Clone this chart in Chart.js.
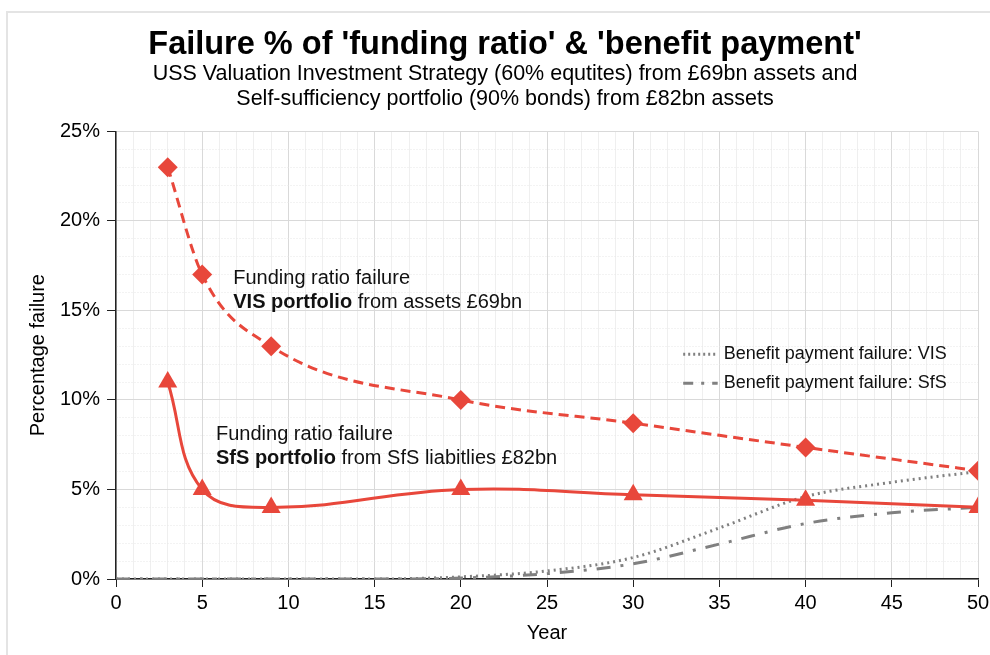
<!DOCTYPE html>
<html lang="en">
<head>
    <meta charset="UTF-8">
    <title>Failure % of funding ratio and benefit payment</title>
    <script src="https://cdn.jsdelivr.net/npm/chart.js"></script>
    <style>
        body { margin: 0; background: #fff; }
        #frame {
            position: absolute; left: 6px; top: 11px; width: 984px; height: 644px;
            border-top: 2px solid #e4e4e4; border-left: 2px solid #e4e4e4;
        }
        #failChart { position: absolute; left: 0; top: 0; }
    </style>
</head>
<body>
    <div id="frame"></div>
    <canvas id="failChart" width="990" height="655"></canvas>

    <script>
        // funding ratio failure
        const fundingYears = [3, 5, 9, 20, 30, 40, 50];
        const visFunding = [23, 17, 13, 10, 8.7, 7.35, 6.05];
        const sfsFunding = [11, 5, 4, 5, 4.7, 4.4, 4.0];

        // benefit payment failure (no markers), read every 5 years
        const benefitYears = [0, 5, 10, 15, 20, 25, 30, 35, 40, 45, 50];
        const visBenefit = [0, 0, 0, 0, 0.12, 0.45, 1.2, 2.85, 4.6, 5.4, 6.0];
        const sfsBenefit = [0, 0, 0, 0, 0.05, 0.3, 0.85, 1.95, 3.1, 3.7, 4.0];

        const legendLabels = ['Benefit payment failure: VIS', 'Benefit payment failure: SfS'];
        const titleText = "Failure % of 'funding ratio' & 'benefit payment'";
        const subtitleText = [
            'USS Valuation Investment Strategy (60% equtites) from £69bn assets and',
            'Self-sufficiency portfolio (90% bonds) from £82bn assets'
        ];

        const RED = '#e8473b';
        const GREY = '#808080';
        const FONT = "'Liberation Sans', Arial, sans-serif";

        function toPoints(xs, ys) {
            return xs.map((x, i) => ({ x: x, y: ys[i] }));
        }

        // text notes + the little legend for the grey lines
        const notesPlugin = {
            id: 'notes',
            afterDraw(chart) {
                const ctx = chart.ctx;
                const xs = chart.scales.x, ys = chart.scales.y;
                ctx.save();
                ctx.fillStyle = '#111';
                ctx.textBaseline = 'middle';

                function note(x, y, line1, bold, rest) {
                    const px = xs.getPixelForValue(x);
                    const py = ys.getPixelForValue(y);
                    ctx.font = '20px ' + FONT;
                    ctx.fillText(line1, px, py);
                    ctx.font = 'bold 20px ' + FONT;
                    ctx.fillText(bold, px, py + 24);
                    const w = ctx.measureText(bold).width;
                    ctx.font = '20px ' + FONT;
                    ctx.fillText(rest, px + w, py + 24);
                }
                note(6.8, 16.8, 'Funding ratio failure', 'VIS portfolio', ' from assets £69bn');
                note(5.8, 8.05, 'Funding ratio failure', 'SfS portfolio', ' from SfS liabitlies £82bn');

                // legend
                const sets = [chart.data.datasets[2], chart.data.datasets[3]];
                const lx0 = xs.getPixelForValue(32.9), lx1 = xs.getPixelForValue(34.9);
                sets.forEach((ds, i) => {
                    const py = ys.getPixelForValue(12.55) + i * 29;
                    ctx.strokeStyle = ds.borderColor;
                    ctx.lineWidth = 3;
                    ctx.lineCap = 'butt';
                    ctx.setLineDash(i === 0 ? [2, 3] : [10, 8, 3, 8]);
                    ctx.beginPath();
                    ctx.moveTo(lx0, py);
                    ctx.lineTo(lx1, py);
                    ctx.stroke();
                    ctx.setLineDash([]);
                    ctx.font = '18px ' + FONT;
                    ctx.fillText(legendLabels[i], lx1 + 6, py);
                });
                ctx.restore();
            }
        };

        function isMajor(c) {
            return c.tick && c.tick.value % 5 === 0;
        }

        new Chart(document.getElementById('failChart'), {
            type: 'line',
            data: {
                datasets: [{
                    label: 'Funding ratio failure: VIS',
                    data: toPoints(fundingYears, visFunding),
                    borderColor: RED,
                    backgroundColor: RED,
                    borderWidth: 3,
                    borderDash: [10, 6],
                    cubicInterpolationMode: 'monotone',
                    pointStyle: 'rectRot',
                    pointRadius: 10,
                    pointBorderWidth: 0,
                    fill: false
                }, {
                    label: 'Funding ratio failure: SfS',
                    data: toPoints(fundingYears, sfsFunding),
                    borderColor: RED,
                    backgroundColor: RED,
                    borderWidth: 3,
                    tension: 0.4,
                    pointStyle: 'triangle',
                    pointRadius: 11,
                    pointBorderWidth: 0,
                    fill: false
                }, {
                    label: legendLabels[0],
                    data: toPoints(benefitYears, visBenefit),
                    borderColor: GREY,
                    borderWidth: 3,
                    borderDash: [2, 4],
                    cubicInterpolationMode: 'monotone',
                    pointRadius: 0,
                    fill: false
                }, {
                    label: legendLabels[1],
                    data: toPoints(benefitYears, sfsBenefit),
                    borderColor: GREY,
                    borderWidth: 3,
                    borderDash: [14, 10, 3, 10],
                    cubicInterpolationMode: 'monotone',
                    pointRadius: 0,
                    fill: false
                }]
            },
            options: {
                responsive: false,
                animation: false,
                layout: { padding: { left: 32, right: 12, top: 0, bottom: 0 } },
                plugins: {
                    legend: { display: false },
                    tooltip: { enabled: false },
                    title: {
                        display: true,
                        text: titleText,
                        color: '#000',
                        font: { family: FONT, size: 32.5, weight: 'bold', lineHeight: 1.1 },
                        padding: { top: 27, bottom: 0 }
                    },
                    subtitle: {
                        display: true,
                        text: subtitleText,
                        color: '#000',
                        font: { family: FONT, size: 21.5, lineHeight: 1.2 },
                        padding: { top: -2, bottom: 19 }
                    }
                },
                scales: {
                    x: {
                        type: 'linear',
                        min: 0,
                        max: 50,
                        afterFit(scale) {
                            scale.height = 76;
                            scale.paddingLeft = 0;
                            scale.paddingRight = 12;
                        },
                        ticks: {
                            stepSize: 1,
                            autoSkip: false,
                            maxRotation: 0,
                            padding: 4,
                            color: '#000',
                            font: { family: FONT, size: 20 },
                            callback: v => (v % 5 === 0 ? v : '')
                        },
                        grid: {
                            color: c => (isMajor(c) ? '#d9d9d9' : '#efefef'),
                            tickColor: c => (isMajor(c) ? '#222' : 'rgba(0,0,0,0)'),
                            tickLength: 8
                        },
                        border: { color: '#222', width: 1.5 },
                        title: {
                            display: true,
                            text: 'Year',
                            color: '#000',
                            font: { family: FONT, size: 20 },
                            padding: { top: 0, bottom: 10 }
                        }
                    },
                    y: {
                        min: 0,
                        max: 25,
                        afterFit(scale) { scale.width = 84; },
                        ticks: {
                            stepSize: 1,
                            autoSkip: false,
                            padding: 7,
                            color: '#000',
                            font: { family: FONT, size: 20 },
                            callback: v => (v % 5 === 0 ? v + '%' : '')
                        },
                        grid: {
                            color: c => (isMajor(c) ? '#d9d9d9' : '#e6e6e6'),
                            tickColor: c => (isMajor(c) ? '#222' : 'rgba(0,0,0,0)'),
                            tickLength: 9
                        },
                        border: {
                            color: '#222',
                            width: 1.5,
                            dash: c => (c.tick && c.tick.value % 5 !== 0 ? [1, 2] : [])
                        },
                        title: {
                            display: true,
                            text: 'Percentage failure',
                            color: '#000',
                            font: { family: FONT, size: 20 },
                            padding: { top: -6, bottom: 0 }
                        }
                    }
                }
            },
            plugins: [notesPlugin]
        });
    </script>
</body>
</html>
